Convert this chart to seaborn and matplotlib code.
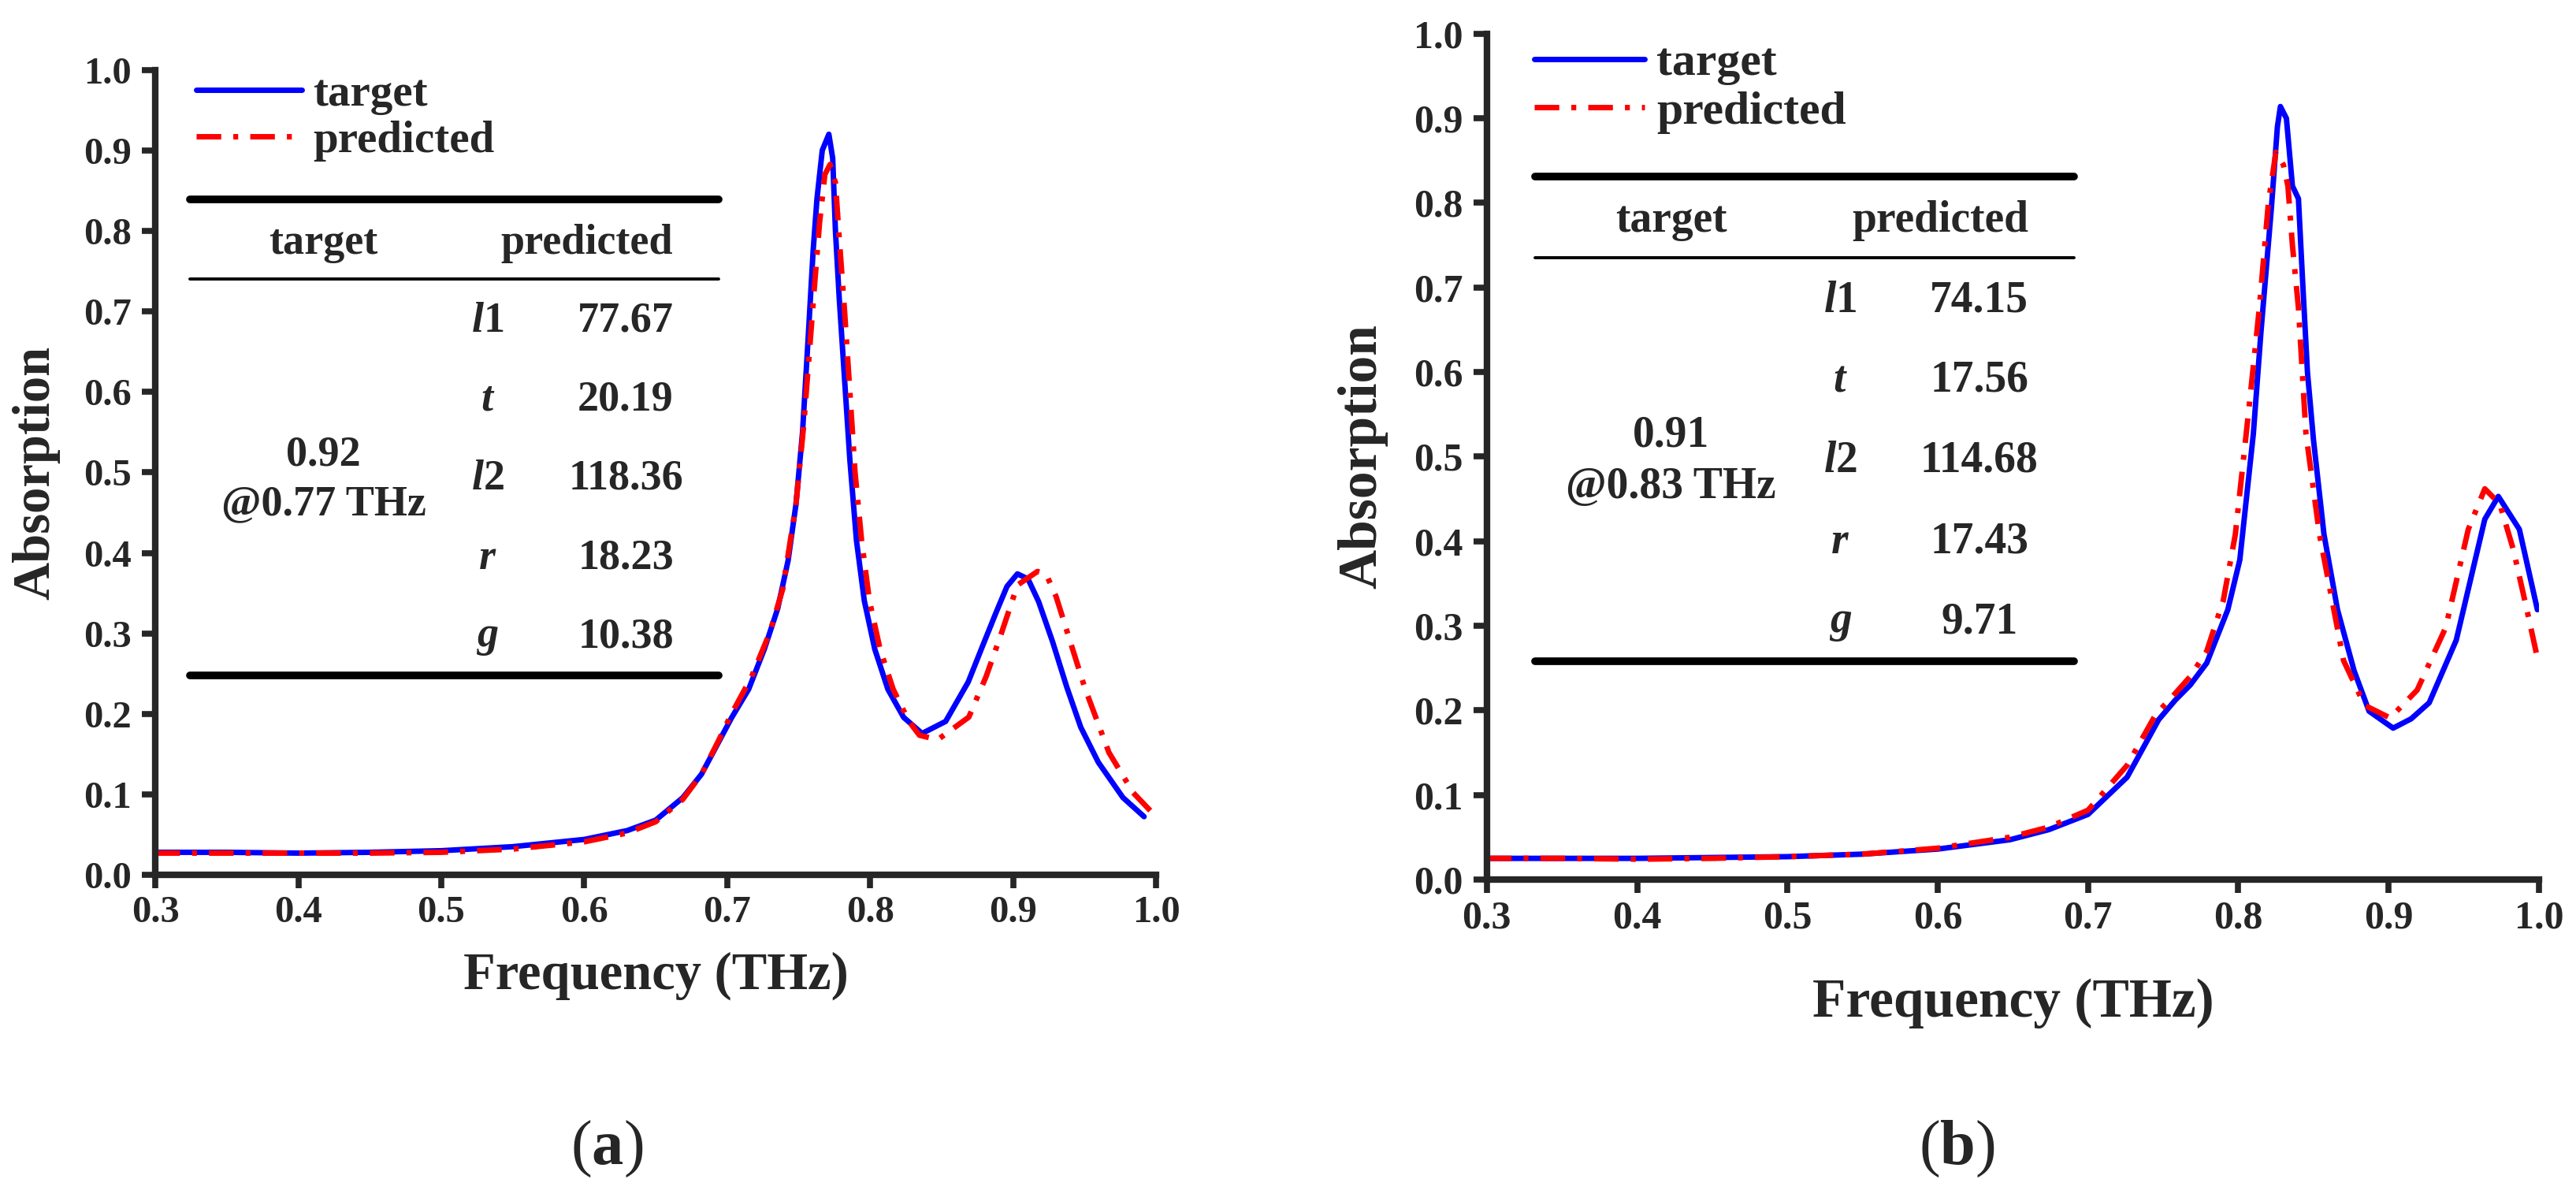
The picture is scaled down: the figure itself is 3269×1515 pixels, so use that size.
import numpy as np
import pandas as pd
import matplotlib
matplotlib.use('Agg')
import matplotlib.pyplot as plt
import seaborn as sns
from matplotlib.ticker import FormatStrFormatter

# ---- data ----
freq_a_target = [0.30, 0.35, 0.40, 0.45, 0.50, 0.55, 0.60, 0.63, 0.65, 0.669, 0.682, 0.694, 0.703,
                 0.715, 0.726, 0.7353, 0.7426, 0.7481, 0.7527, 0.7564, 0.7601, 0.7628, 0.7665, 0.7711,
                 0.7738, 0.7757, 0.7784, 0.7821, 0.7858, 0.7904, 0.7959, 0.8032, 0.8124, 0.8234,
                 0.8363, 0.8528, 0.8686, 0.8784, 0.8883, 0.8957, 0.903, 0.9104, 0.9178, 0.9276,
                 0.9375, 0.9473, 0.9596, 0.9768, 0.9916]
abs_a_target = [0.028, 0.028, 0.027, 0.028, 0.030, 0.035, 0.044, 0.055, 0.068, 0.096, 0.125, 0.165, 0.195,
                0.2306, 0.2806, 0.3307, 0.3906, 0.4605, 0.5504, 0.6604, 0.7753, 0.8403, 0.9003, 0.9203,
                0.8903, 0.8003, 0.7154, 0.6155, 0.5155, 0.4156, 0.3406, 0.2806, 0.2306, 0.1957,
                0.1757, 0.1907, 0.2397, 0.2834, 0.327, 0.3584, 0.374, 0.3677, 0.3396, 0.2896,
                0.2334, 0.1834, 0.1398, 0.096, 0.0723]
freq_a_pred = [0.30, 0.35, 0.40, 0.45, 0.50, 0.55, 0.60, 0.63, 0.65, 0.669, 0.682, 0.694, 0.703,
               0.7169, 0.7297, 0.7389, 0.7481, 0.7536, 0.7573, 0.761, 0.7646, 0.7683, 0.772, 0.7757,
               0.7784, 0.7821, 0.7858, 0.7894, 0.794, 0.7995, 0.8069, 0.8161, 0.8271, 0.8345, 0.8473,
               0.869, 0.881, 0.891, 0.903, 0.917, 0.923, 0.930, 0.950, 0.967, 0.984, 0.999]
abs_a_pred = [0.027, 0.027, 0.027, 0.027, 0.028, 0.032, 0.041, 0.052, 0.066, 0.094, 0.125, 0.167, 0.200,
              0.2456, 0.3007, 0.3555, 0.4605, 0.5604, 0.6454, 0.7304, 0.8103, 0.8703, 0.8828, 0.8603,
              0.7904, 0.7004, 0.6005, 0.5005, 0.4156, 0.3406, 0.2806, 0.2306, 0.1907, 0.1734, 0.168,
              0.196, 0.246, 0.296, 0.360, 0.377, 0.374, 0.346, 0.233, 0.152, 0.102, 0.074]

freq_b_target = [0.30, 0.35, 0.40, 0.45, 0.50, 0.55, 0.60, 0.648, 0.674, 0.700, 0.726, 0.747, 0.758,
                 0.768, 0.779, 0.793, 0.801, 0.810, 0.815, 0.822, 0.826, 0.828, 0.832, 0.836, 0.840,
                 0.843, 0.846, 0.850, 0.857, 0.866, 0.877, 0.887, 0.903, 0.915, 0.927, 0.945, 0.964,
                 0.973, 0.987, 0.999]
abs_b_target = [0.025, 0.025, 0.025, 0.026, 0.027, 0.030, 0.036, 0.047, 0.059, 0.077, 0.121, 0.189, 0.212,
                0.230, 0.256, 0.319, 0.378, 0.527, 0.646, 0.794, 0.890, 0.914, 0.900, 0.820, 0.805,
                0.700, 0.600, 0.520, 0.408, 0.319, 0.247, 0.199, 0.179, 0.190, 0.209, 0.283, 0.426,
                0.453, 0.414, 0.319]
freq_b_pred = [0.30, 0.35, 0.40, 0.45, 0.50, 0.55, 0.60, 0.648, 0.674, 0.700, 0.726, 0.745, 0.758,
               0.768, 0.779, 0.790, 0.798, 0.807, 0.814, 0.820, 0.825, 0.830, 0.833, 0.836, 0.840,
               0.845, 0.854, 0.861, 0.870, 0.884, 0.901, 0.919, 0.938, 0.953, 0.964, 0.974, 0.983,
               0.992, 0.999]
abs_b_pred = [0.025, 0.025, 0.024, 0.025, 0.027, 0.030, 0.037, 0.050, 0.062, 0.082, 0.135, 0.195, 0.220,
              0.240, 0.270, 0.330, 0.408, 0.556, 0.676, 0.800, 0.860, 0.845, 0.820, 0.750, 0.676,
              0.527, 0.408, 0.343, 0.259, 0.206, 0.191, 0.224, 0.298, 0.414, 0.462, 0.444, 0.390,
              0.319, 0.262]

param_names = [r'$l$1', r'$t$', r'$l$2', r'$r$', r'$g$']
params_a = ['77.67', '20.19', '118.36', '18.23', '10.38']
params_b = ['74.15', '17.56', '114.68', '17.43', '9.71']
target_a = ['0.92', '@0.77 THz']
target_b = ['0.91', '@0.83 THz']

sns.set_style('ticks')
plt.rcParams['font.family'] = ['Liberation Serif', 'DejaVu Serif']
plt.rcParams['font.weight'] = 'bold'
plt.rcParams['mathtext.fontset'] = 'custom'
plt.rcParams['mathtext.rm'] = 'Liberation Serif'
plt.rcParams['mathtext.bf'] = 'Liberation Serif:bold'
plt.rcParams['mathtext.it'] = 'Liberation Serif:italic:bold'

BLUE = '#0000ff'
RED = '#ff0000'


def draw_panel(ax, f_t, a_t, f_p, a_p, params, target, lay):
    df_t = pd.DataFrame({'freq': f_t, 'absorption': a_t})
    df_p = pd.DataFrame({'freq': f_p, 'absorption': a_p})
    sns.lineplot(data=df_t, x='freq', y='absorption', ax=ax, color=BLUE, lw=5,
                 label='target', sort=False, solid_capstyle='round', solid_joinstyle='round')
    sns.lineplot(data=df_p, x='freq', y='absorption', ax=ax, color=RED, lw=5,
                 linestyle=(0, (4.5, 2.2, 0.9, 2.2)), label='predicted', sort=False)

    ax.set_xlim(0.3, 1.0)
    ax.set_ylim(0.0, 1.0)
    ax.set_xticks(np.arange(0.3, 1.01, 0.1))
    ax.set_yticks(np.arange(0.0, 1.01, 0.1))
    ax.xaxis.set_major_formatter(FormatStrFormatter('%.1f'))
    ax.yaxis.set_major_formatter(FormatStrFormatter('%.1f'))
    sns.despine(ax=ax)
    for s in ['left', 'bottom']:
        ax.spines[s].set_linewidth(6)
    ax.tick_params(axis='both', direction='out', length=12, width=5.5, labelsize=lay['tick'])
    ax.tick_params(axis='x', pad=7)
    ax.tick_params(axis='y', pad=10)
    for lab in ax.get_xticklabels() + ax.get_yticklabels():
        lab.set_fontweight('bold')

    ax.set_xlabel('Frequency (THz)', fontsize=lay['label'], fontweight='bold')
    ax.set_ylabel('Absorption', fontsize=lay['label'], fontweight='bold')
    ax.xaxis.set_label_coords(0.5, lay['xlab_y'])
    ax.yaxis.set_label_coords(lay['ylab_x'], 0.5)

    ax.legend(loc='upper left', bbox_to_anchor=(lay['leg_x'], lay['leg_y']), frameon=False,
              fontsize=lay['leg'], handlelength=2.35, handletextpad=0.25, labelspacing=0.12,
              borderpad=0, borderaxespad=0)

    # parameter table
    x0, x1 = lay['tab_x']
    ytop, ythin, ybot = lay['tab_lines']
    ax.plot([x0, x1], [ytop, ytop], color='black', lw=7, transform=ax.transAxes, clip_on=False)
    ax.plot([x0, x1], [ythin, ythin], color='black', lw=2.8, transform=ax.transAxes, clip_on=False)
    ax.plot([x0, x1], [ybot, ybot], color='black', lw=7, transform=ax.transAxes, clip_on=False)
    c_tgt, c_pred, c_sym, c_val = lay['cols']
    fs = lay['tab']
    ax.text(c_tgt, lay['head_y'], 'target', transform=ax.transAxes, ha='center', va='center',
            fontsize=fs, fontweight='bold')
    ax.text(c_pred, lay['head_y'], 'predicted', transform=ax.transAxes, ha='center', va='center',
            fontsize=fs, fontweight='bold')
    for name, val, ry in zip(param_names, params, lay['rows']):
        ax.text(c_sym, ry, name, transform=ax.transAxes, ha='center', va='center',
                fontsize=fs, fontweight='bold')
        ax.text(c_val, ry, val, transform=ax.transAxes, ha='center', va='center',
                fontsize=fs, fontweight='bold')
    for txt, ty in zip(target, lay['tgt_y']):
        ax.text(c_tgt, ty, txt, transform=ax.transAxes, ha='center', va='center',
                fontsize=fs, fontweight='bold')


fig = plt.figure(figsize=(32.69, 15.15), dpi=100)
ax_a = fig.add_axes([0.0603, 0.2673, 0.3885, 0.674])
ax_b = fig.add_axes([0.5772, 0.2634, 0.4084, 0.7083])

layout_a = dict(tick=35, label=48, leg=41, tab=39, xlab_y=-0.095, ylab_x=-0.095,
                leg_x=0.041, leg_y=0.995, tab_x=(0.0346, 0.563), tab_lines=(0.839, 0.740, 0.248),
                head_y=0.784, cols=(0.168, 0.431, 0.332, 0.470),
                rows=(0.688, 0.590, 0.492, 0.393, 0.295), tgt_y=(0.522, 0.460))
layout_b = dict(tick=36, label=50, leg=43, tab=40, xlab_y=-0.117, ylab_x=-0.094,
                leg_x=0.045, leg_y=0.99, tab_x=(0.0457, 0.558), tab_lines=(0.831, 0.735, 0.258),
                head_y=0.779, cols=(0.175, 0.431, 0.336, 0.468),
                rows=(0.684, 0.590, 0.495, 0.399, 0.304), tgt_y=(0.525, 0.464))

draw_panel(ax_a, freq_a_target, abs_a_target, freq_a_pred, abs_a_pred, params_a, target_a, layout_a)
draw_panel(ax_b, freq_b_target, abs_b_target, freq_b_pred, abs_b_pred, params_b, target_b, layout_b)

fig.text(0.2355, 0.0251, r'($\mathbf{a}$)', ha='center', va='baseline', fontsize=58, fontweight='normal')
fig.text(0.7596, 0.0251, r'($\mathbf{b}$)', ha='center', va='baseline', fontsize=58, fontweight='normal')

fig.savefig('out.png', dpi=100, facecolor='white')
